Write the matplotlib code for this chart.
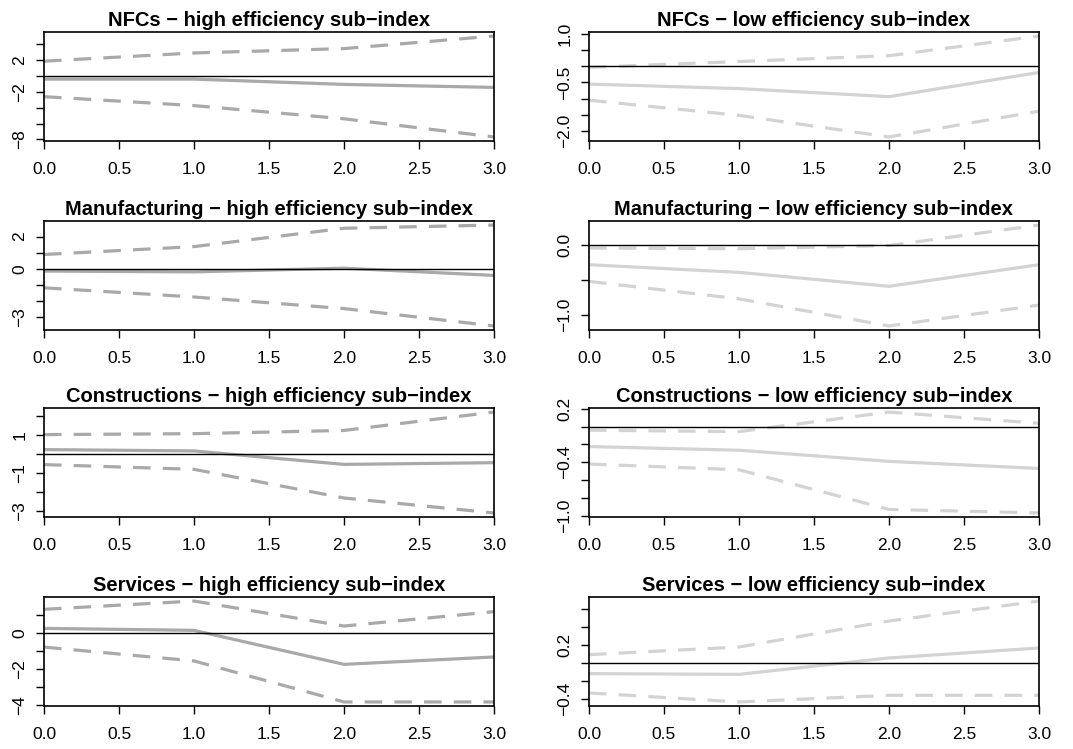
import matplotlib
matplotlib.use("Agg")
import matplotlib.pyplot as plt
import numpy as np

plt.rcParams['font.family'] = ['Liberation Sans', 'DejaVu Sans']
plt.rcParams['axes.unicode_minus'] = True

horizon = [0, 1, 2, 3]

titles = [
    "NFCs \u2212 high efficiency sub\u2212index",
    "NFCs \u2212 low efficiency sub\u2212index",
    "Manufacturing \u2212 high efficiency sub\u2212index",
    "Manufacturing \u2212 low efficiency sub\u2212index",
    "Constructions \u2212 high efficiency sub\u2212index",
    "Constructions \u2212 low efficiency sub\u2212index",
    "Services \u2212 high efficiency sub\u2212index",
    "Services \u2212 low efficiency sub\u2212index",
]

# impulse response (solid) with lower / upper confidence bands (dashed)
irf = [
    [-0.38, -0.38, -1.05, -1.43],
    [-0.55, -0.69, -0.94, -0.19],
    [-0.14, -0.19, 0.04, -0.41],
    [-0.28, -0.39, -0.59, -0.28],
    [0.25, 0.18, -0.53, -0.44],
    [-0.224, -0.265, -0.39, -0.47],
    [0.24, 0.13, -1.76, -1.35],
    [-0.122, -0.13, 0.052, 0.163],
]
lower = [
    [-2.6, -3.73, -5.4, -7.7],
    [-1.05, -1.52, -2.19, -1.39],
    [-1.18, -1.75, -2.47, -3.55],
    [-0.52, -0.77, -1.16, -0.86],
    [-0.54, -0.79, -2.30, -3.09],
    [-0.42, -0.485, -0.93, -0.97],
    [-0.8, -1.57, -3.85, -3.85],
    [-0.337, -0.437, -0.363, -0.363],
]
upper = [
    [1.89, 2.93, 3.48, 5.07],
    [-0.03, 0.15, 0.33, 0.94],
    [0.89, 1.38, 2.52, 2.72],
    [-0.04, -0.05, -0.005, 0.29],
    [1.04, 1.09, 1.26, 2.23],
    [-0.04, -0.056, 0.164, 0.037],
    [1.3, 1.76, 0.37, 1.17],
    [0.089, 0.174, 0.463, 0.685],
]

yticks = [
    [-8, -6, -4, -2, 0, 2, 4],
    [-2.0, -1.5, -1.0, -0.5, 0.0, 0.5, 1.0],
    [-3, -2, -1, 0, 1, 2],
    [-1.0, -0.5, 0.0],
    [-3, -2, -1, 0, 1, 2],
    [-1.0, -0.8, -0.6, -0.4, -0.2, 0.0, 0.2],
    [-4, -3, -2, -1, 0, 1],
    [-0.4, -0.2, 0.0, 0.2, 0.4, 0.6],
]
# only these ticks get a label (the rest would overlap)
ylabeled = [
    [-8, -2, 2],
    [-2.0, -0.5, 1.0],
    [-3, 0, 2],
    [-1.0, 0.0],
    [-3, -1, 1],
    [-1.0, -0.4, 0.2],
    [-4, -2, 0],
    [-0.4, 0.2],
]

xticks = [0.0, 0.5, 1.0, 1.5, 2.0, 2.5, 3.0]

W, H = 1073, 749
fig = plt.figure(figsize=(W / 100, H / 100), dpi=100)

col_left = [44, 589]
col_width = 450
row_top = [32, 221, 408, 597]
row_height = 109

for i in range(8):
    r, c = divmod(i, 2)
    ax = fig.add_axes([col_left[c] / W, 1 - (row_top[r] + row_height) / H,
                       col_width / W, row_height / H])
    colour = '#a9a9a9' if c == 0 else '#d3d3d3'

    ax.plot(horizon, irf[i], color=colour, lw=2.3, solid_capstyle='butt')
    ax.plot(horizon, lower[i], color=colour, lw=2.3, dashes=(5.5, 3.8))
    ax.plot(horizon, upper[i], color=colour, lw=2.3, dashes=(5.5, 3.8))
    ax.axhline(0, color='black', lw=1.0)

    lo, hi = min(lower[i]), max(upper[i])
    pad = 0.04 * (hi - lo)
    ax.set_ylim(lo - pad, hi + pad)
    ax.set_xlim(0, 3)

    ax.set_xticks(xticks)
    ax.set_xticklabels(["%.1f" % v for v in xticks])
    ax.set_yticks(yticks[i])
    fmt = "%d" if all(float(v).is_integer() for v in yticks[i]) else "%.1f"
    labs = []
    for v in yticks[i]:
        if any(abs(v - w) < 1e-9 for w in ylabeled[i]):
            labs.append((fmt % v).replace('-', '\u2212'))
        else:
            labs.append('')
    ax.set_yticklabels(labs, rotation=90, va='center')

    ax.tick_params(direction='out', length=6, width=1.0, labelsize=12.5,
                   color='black')
    ax.tick_params(axis='x', pad=9)
    ax.tick_params(axis='y', pad=6)
    for s in ax.spines.values():
        s.set_linewidth(1.2)

    ax.set_title(titles[i], fontsize=14.5, fontweight='bold', pad=4)

fig.savefig("out.png", dpi=100)
